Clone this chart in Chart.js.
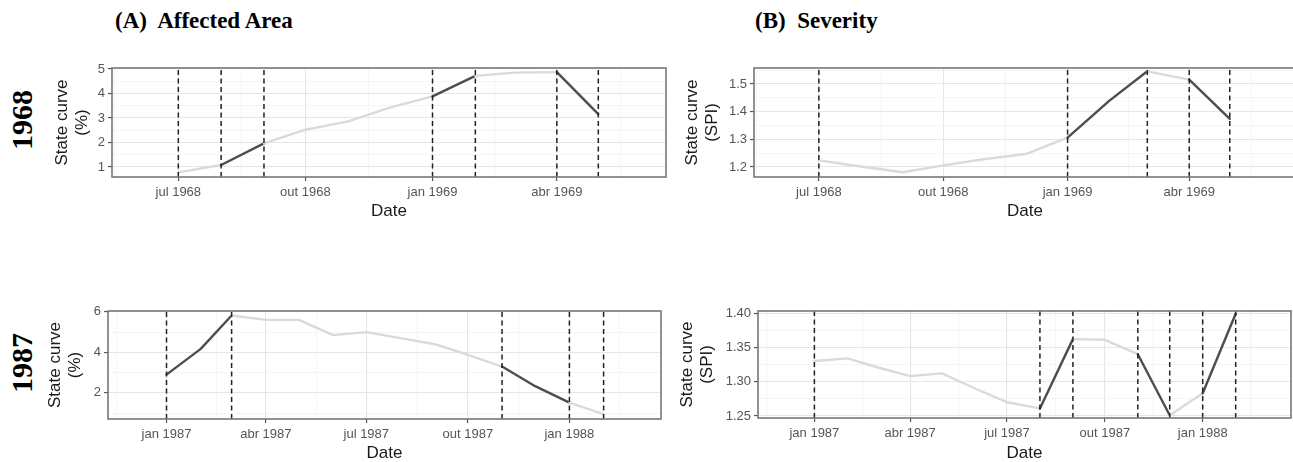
<!DOCTYPE html>
<html>
<head>
<meta charset="utf-8">
<script src="https://cdn.jsdelivr.net/npm/chart.js@4.4.1/dist/chart.umd.min.js"></script>
<style>
  html, body { margin: 0; padding: 0; background: #fff; }
  body { width: 1293px; height: 462px; overflow: hidden; position: relative; }
  .head { position: absolute; font-family: "Liberation Serif", "Times New Roman", serif; font-weight: bold; font-size: 23px; line-height: 26px; color: #000; white-space: pre; }
  .year { position: absolute; width: 90px; height: 36px; line-height: 36px; text-align: center; font-family: "Liberation Serif", "Times New Roman", serif; font-weight: bold; font-size: 30px; color: #000; transform: rotate(-90deg); }
</style>
</head>
<body>
<div class="head" style="left:115px;top:8px">(A)  Affected Area</div>
<div class="head" style="left:755px;top:8px">(B)  Severity</div>
<div class="year" style="left:-23px;top:102px">1968</div>
<div class="year" style="left:-23px;top:345px">1987</div>

<script>
// Dados (valores mensais da curva de estado)
const months1968 = ['1968-07', '1968-08', '1968-09', '1968-10', '1968-11', '1968-12',
                    '1969-01', '1969-02', '1969-03', '1969-04', '1969-05'];
const area1968 = [0.78, 1.08, 1.96, 2.52, 2.86, 3.42, 3.88, 4.72, 4.85, 4.87, 3.16];
const spi1968  = [1.224, 1.202, 1.181, 1.206, 1.229, 1.247, 1.306, 1.440, 1.546, 1.516, 1.374];

const months1987 = ['1987-01', '1987-02', '1987-03', '1987-04', '1987-05', '1987-06', '1987-07',
                    '1987-08', '1987-09', '1987-10', '1987-11', '1987-12', '1988-01', '1988-02'];
const area1987 = [2.90, 4.17, 5.82, 5.60, 5.60, 4.85, 5.00, 4.70, 4.40, 3.88, 3.30, 2.33, 1.52, 0.95];
const spi1987  = [1.330, 1.334, 1.321, 1.308, 1.312, 1.290, 1.270, 1.261, 1.362, 1.361, 1.340, 1.251, 1.283, 1.399];

// linhas tracejadas e trechos destacados
const vlinesArea1968 = ['1968-07', '1968-08', '1968-09', '1969-01', '1969-02', '1969-04', '1969-05'];
const darkArea1968 = [['1968-08', '1968-09'], ['1969-01', '1969-02'], ['1969-04', '1969-05']];
const vlinesSpi1968 = ['1968-07', '1969-01', '1969-03', '1969-04', '1969-05'];
const darkSpi1968 = [['1969-01', '1969-03'], ['1969-04', '1969-05']];
const vlinesArea1987 = ['1987-01', '1987-03', '1987-11', '1988-01', '1988-02'];
const darkArea1987 = [['1987-01', '1987-03'], ['1987-11', '1988-01']];
const vlinesSpi1987 = ['1987-01', '1987-08', '1987-09', '1987-11', '1987-12', '1988-01', '1988-02'];
const darkSpi1987 = [['1987-08', '1987-09'], ['1987-11', '1987-12'], ['1988-01', '1988-02']];

// rótulos dos eixos
const breaks1968 = ['1968-07', '1968-10', '1969-01', '1969-04'];
const breakLabels1968 = ['jul 1968', 'out 1968', 'jan 1969', 'abr 1969'];
const breaks1987 = ['1987-01', '1987-04', '1987-07', '1987-10', '1988-01'];
const breakLabels1987 = ['jan 1987', 'abr 1987', 'jul 1987', 'out 1987', 'jan 1988'];
const areaTicks1968 = [1, 2, 3, 4, 5];
const areaTickLabels1968 = ['1', '2', '3', '4', '5'];
const spiTicks1968 = [1.2, 1.3, 1.4, 1.5];
const spiTickLabels1968 = ['1.2', '1.3', '1.4', '1.5'];
const areaTicks1987 = [2, 4, 6];
const areaTickLabels1987 = ['2', '4', '6'];
const spiTicks1987 = [1.25, 1.30, 1.35, 1.40];
const spiTickLabels1987 = ['1.25', '1.30', '1.35', '1.40'];

const LIGHT = '#dadada';
const DARK = '#4d4d4d';

Chart.defaults.font.family = '"Liberation Sans", Arial, sans-serif';

function dayOf(s) {
    const p = s.split('-').map(Number);
    return Date.UTC(p[0], p[1] - 1, p[2] || 1) / 86400000;
}

// majors + minors (a meio caminho, como no ggplot)
function tickSet(major, labels, lo, hi) {
    const step = major[1] - major[0];
    const all = [major[0] - step].concat(major, [major[major.length - 1] + step]);
    const txt = [''].concat(labels, ['']);
    const out = [];
    all.forEach(function(v, i) {
        if (v >= lo && v <= hi) out.push({ value: v, txt: txt[i], minor: false });
        if (i > 0) {
            const m = (all[i - 1] + v) / 2;
            if (m >= lo && m <= hi) out.push({ value: m, txt: '', minor: true });
        }
    });
    return out.sort(function(a, b) { return a.value - b.value; });
}

function gridOpts() {
    return {
        color: function(c) { return c.tick && c.tick.minor ? '#f2f2f2' : '#e6e6e6'; },
        lineWidth: function(c) { return c.tick && c.tick.minor ? 0.8 : 1.1; },
        tickColor: function(c) { return c.tick && c.tick.minor ? 'rgba(0,0,0,0)' : '#555'; },
        tickLength: 4,
        tickWidth: 1.2
    };
}

function drawPanel(p) {
    const cl = p.box[0], ct = p.box[1], cw = p.box[2], ch = p.box[3];
    const al = p.area[0], at = p.area[1], ar = p.area[2], ab = p.area[3];

    const canvas = document.createElement('canvas');
    canvas.width = cw;
    canvas.height = ch;
    canvas.style.cssText = 'position:absolute;left:' + cl + 'px;top:' + ct + 'px;width:' + cw + 'px;height:' + ch + 'px';
    document.body.appendChild(canvas);

    const xMin = dayOf(p.xMin), xMax = dayOf(p.xMax);
    const xs = p.months.map(dayOf);
    const xTicks = tickSet(p.xBreaks.map(dayOf), p.xLabels, xMin, xMax);
    const yTicks = tickSet(p.yBreaks, p.yLabels, p.yMin, p.yMax);
    const darkRanges = p.dark.map(function(r) { return [dayOf(r[0]), dayOf(r[1])]; });
    const vx = p.vlines.map(dayOf);

    function isDark(x) {
        return darkRanges.some(function(r) { return x >= r[0] && x < r[1]; });
    }

    const decor = {
        id: 'decor',
        afterDatasetsDraw: function(chart) {
            const ctx = chart.ctx, a = chart.chartArea, x = chart.scales.x;
            ctx.save();
            ctx.strokeStyle = '#222';
            ctx.lineWidth = 1.5;
            ctx.setLineDash([5, 3.5]);
            vx.forEach(function(v) {
                const px = x.getPixelForValue(v);
                ctx.beginPath();
                ctx.moveTo(px, a.bottom);
                ctx.lineTo(px, a.top);
                ctx.stroke();
            });
            ctx.setLineDash([]);
            ctx.strokeStyle = '#777';
            ctx.lineWidth = 1.6;
            ctx.strokeRect(a.left, a.top, a.right - a.left, a.bottom - a.top);
            ctx.restore();
        }
    };

    new Chart(canvas, {
        type: 'line',
        data: {
            datasets: [{
                data: xs.map(function(x, i) { return { x: x, y: p.values[i] }; }),
                borderColor: LIGHT,
                borderWidth: 2.4,
                borderCapStyle: 'round',
                borderJoinStyle: 'round',
                pointRadius: 0,
                tension: 0,
                segment: {
                    borderColor: function(c) { return isDark(xs[c.p0DataIndex]) ? DARK : LIGHT; }
                }
            }]
        },
        options: {
            responsive: false,
            animation: false,
            events: [],
            layout: { padding: { top: at - ct, right: cl + cw - ar, left: 0, bottom: 0 } },
            plugins: { legend: { display: false }, tooltip: { enabled: false } },
            scales: {
                x: {
                    type: 'linear',
                    min: xMin,
                    max: xMax,
                    afterBuildTicks: function(s) { s.ticks = xTicks.map(function(t) { return Object.assign({}, t); }); },
                    afterFit: function(s) { s.height = ct + ch - ab; },
                    ticks: {
                        autoSkip: false, maxRotation: 0, minRotation: 0, padding: 4,
                        color: '#555', font: { size: 13 },
                        callback: function(v, i, ticks) { return ticks[i].txt; }
                    },
                    grid: gridOpts(),
                    border: { display: false },
                    title: {
                        display: true, text: 'Date', color: '#1a1a1a',
                        font: { size: 17, lineHeight: 1.2 },
                        padding: { top: 0, bottom: ct + ch - p.dateY - 10.2 }
                    }
                },
                y: {
                    type: 'linear',
                    min: p.yMin,
                    max: p.yMax,
                    afterBuildTicks: function(s) { s.ticks = yTicks.map(function(t) { return Object.assign({}, t); }); },
                    afterFit: function(s) { s.width = al - cl; },
                    ticks: {
                        autoSkip: false, padding: 3,
                        color: '#555', font: { size: 13 },
                        callback: function(v, i, ticks) { return ticks[i].txt; }
                    },
                    grid: gridOpts(),
                    border: { display: false },
                    title: {
                        display: true, text: p.yTitle, color: '#1a1a1a',
                        font: { size: 17, lineHeight: 1.2 },
                        padding: { top: p.titleX - cl - 10.2, bottom: 0 }
                    }
                }
            }
        },
        plugins: [decor]
    });
}

drawPanel({
    box: [0, 45, 670, 180], area: [112, 68, 666, 177], titleX: 62, dateY: 211,
    xMin: '1968-05-14', xMax: '1969-06-19', xBreaks: breaks1968, xLabels: breakLabels1968,
    yMin: 0.59, yMax: 5.04, yBreaks: areaTicks1968, yLabels: areaTickLabels1968,
    yTitle: ['State curve', '(%)'],
    months: months1968, values: area1968, dark: darkArea1968, vlines: vlinesArea1968
});

drawPanel({
    box: [670, 45, 640, 180], area: [754, 68, 1296, 177], titleX: 692, dateY: 211,
    xMin: '1968-05-14', xMax: '1969-06-19', xBreaks: breaks1968, xLabels: breakLabels1968,
    yMin: 1.164, yMax: 1.558, yBreaks: spiTicks1968, yLabels: spiTickLabels1968,
    yTitle: ['State curve', '(SPI)'],
    months: months1968, values: spi1968, dark: darkSpi1968, vlines: vlinesSpi1968
});

drawPanel({
    box: [0, 290, 670, 180], area: [108, 311, 661, 419], titleX: 55, dateY: 453,
    xMin: '1986-11-09', xMax: '1988-03-24', xBreaks: breaks1987, xLabels: breakLabels1987,
    yMin: 0.71, yMax: 6.04, yBreaks: areaTicks1987, yLabels: areaTickLabels1987,
    yTitle: ['State curve', '(%)'],
    months: months1987, values: area1987, dark: darkArea1987, vlines: vlinesArea1987
});

drawPanel({
    box: [670, 290, 640, 180], area: [758, 311, 1291, 418], titleX: 687, dateY: 453,
    xMin: '1986-11-09', xMax: '1988-03-24', xBreaks: breaks1987, xLabels: breakLabels1987,
    yMin: 1.247, yMax: 1.403, yBreaks: spiTicks1987, yLabels: spiTickLabels1987,
    yTitle: ['State curve', '(SPI)'],
    months: months1987, values: spi1987, dark: darkSpi1987, vlines: vlinesSpi1987
});
</script>
</body>
</html>
